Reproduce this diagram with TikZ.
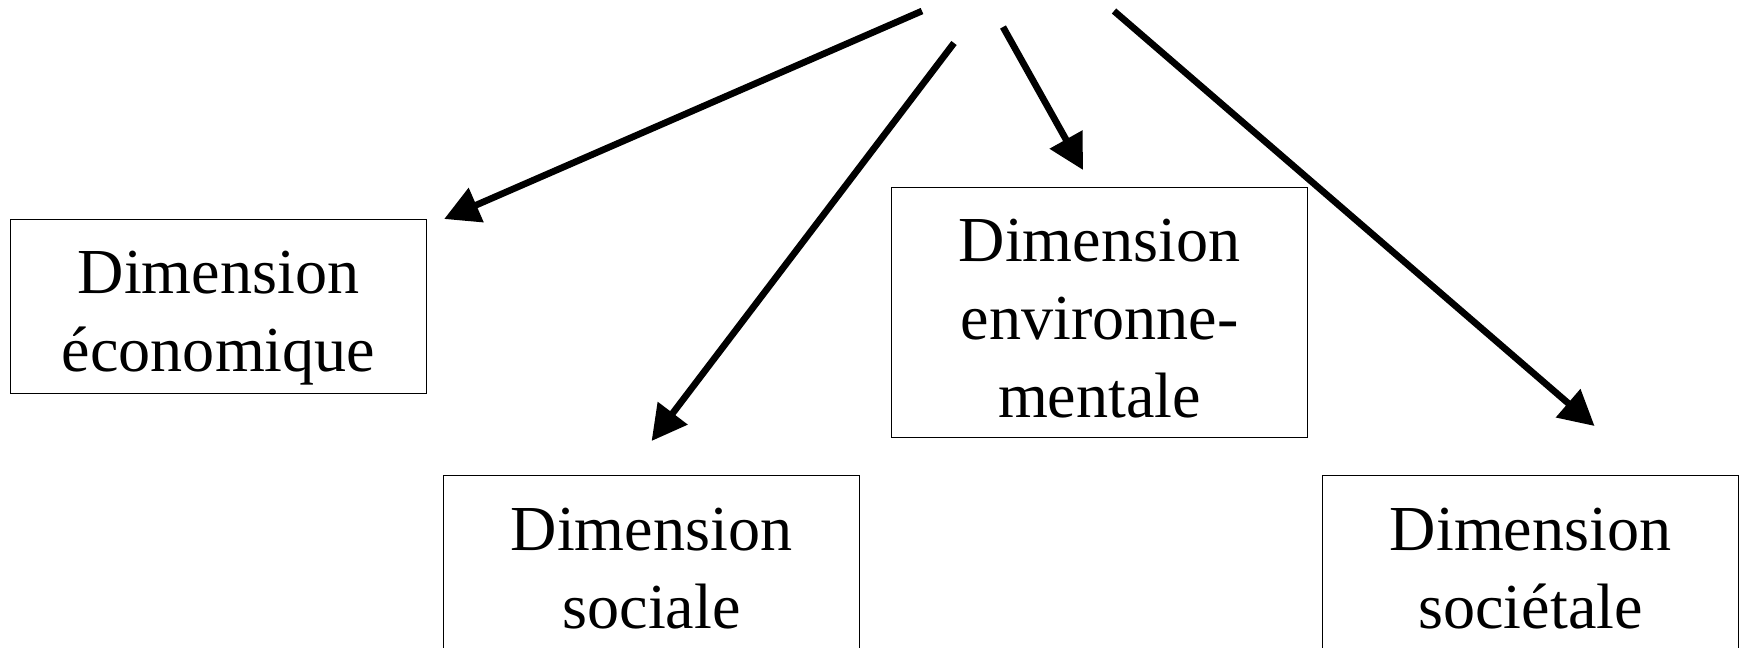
\documentclass[tikz,border=0pt]{standalone}
\usepackage{fontspec}
\setmainfont{Liberation Serif}
\usetikzlibrary{arrows.meta}

\newcommand{\dimstrut}{\rule[-6.3pt]{0pt}{43.3pt}}
\tikzset{
  dimbox/.style={draw, line width=0.7pt, anchor=north west, inner sep=0pt,
    minimum width=8.32cm, minimum height=3.48cm, align=center,
    font=\fontsize{36.5}{43.2}\selectfont},
  dimarrow/.style={line width=3.8pt, -{Triangle[length=0.7cm,width=0.72cm]}}
}

\begin{document}
\begin{tikzpicture}[x=0.02cm, y=-0.02cm]
  \useasboundingbox (0,0) rectangle (1744,647);
  \node[dimbox] (eco) at (10,219) {\dimstrut Dimension\\\dimstrut économique};
  \node[dimbox] (soc) at (443,475) {\dimstrut Dimension\\\dimstrut sociale};
  \node[dimbox, minimum height=5cm] (env) at (891,187)
    {\dimstrut Dimension\\\dimstrut environne-\\\dimstrut mentale};
  \node[dimbox] (sot) at (1322,475) {\dimstrut Dimension\\\dimstrut sociétale};
  \coordinate (s1) at (922,11);
  \coordinate (s2) at (954,43);
  \coordinate (s3) at (1003,27);
  \coordinate (s4) at (1114,11);
  \draw[dimarrow] (s1) -- ([xshift=0.34cm]eco.north east);
  \draw[dimarrow] (s2) -- ([yshift=0.68cm]soc.north);
  \draw[dimarrow] (s3) -- ([xshift=-0.33cm,yshift=0.34cm]env.north);
  \draw[dimarrow] (s4) -- ([xshift=1.28cm,yshift=0.98cm]sot.north);
\end{tikzpicture}
\end{document}
